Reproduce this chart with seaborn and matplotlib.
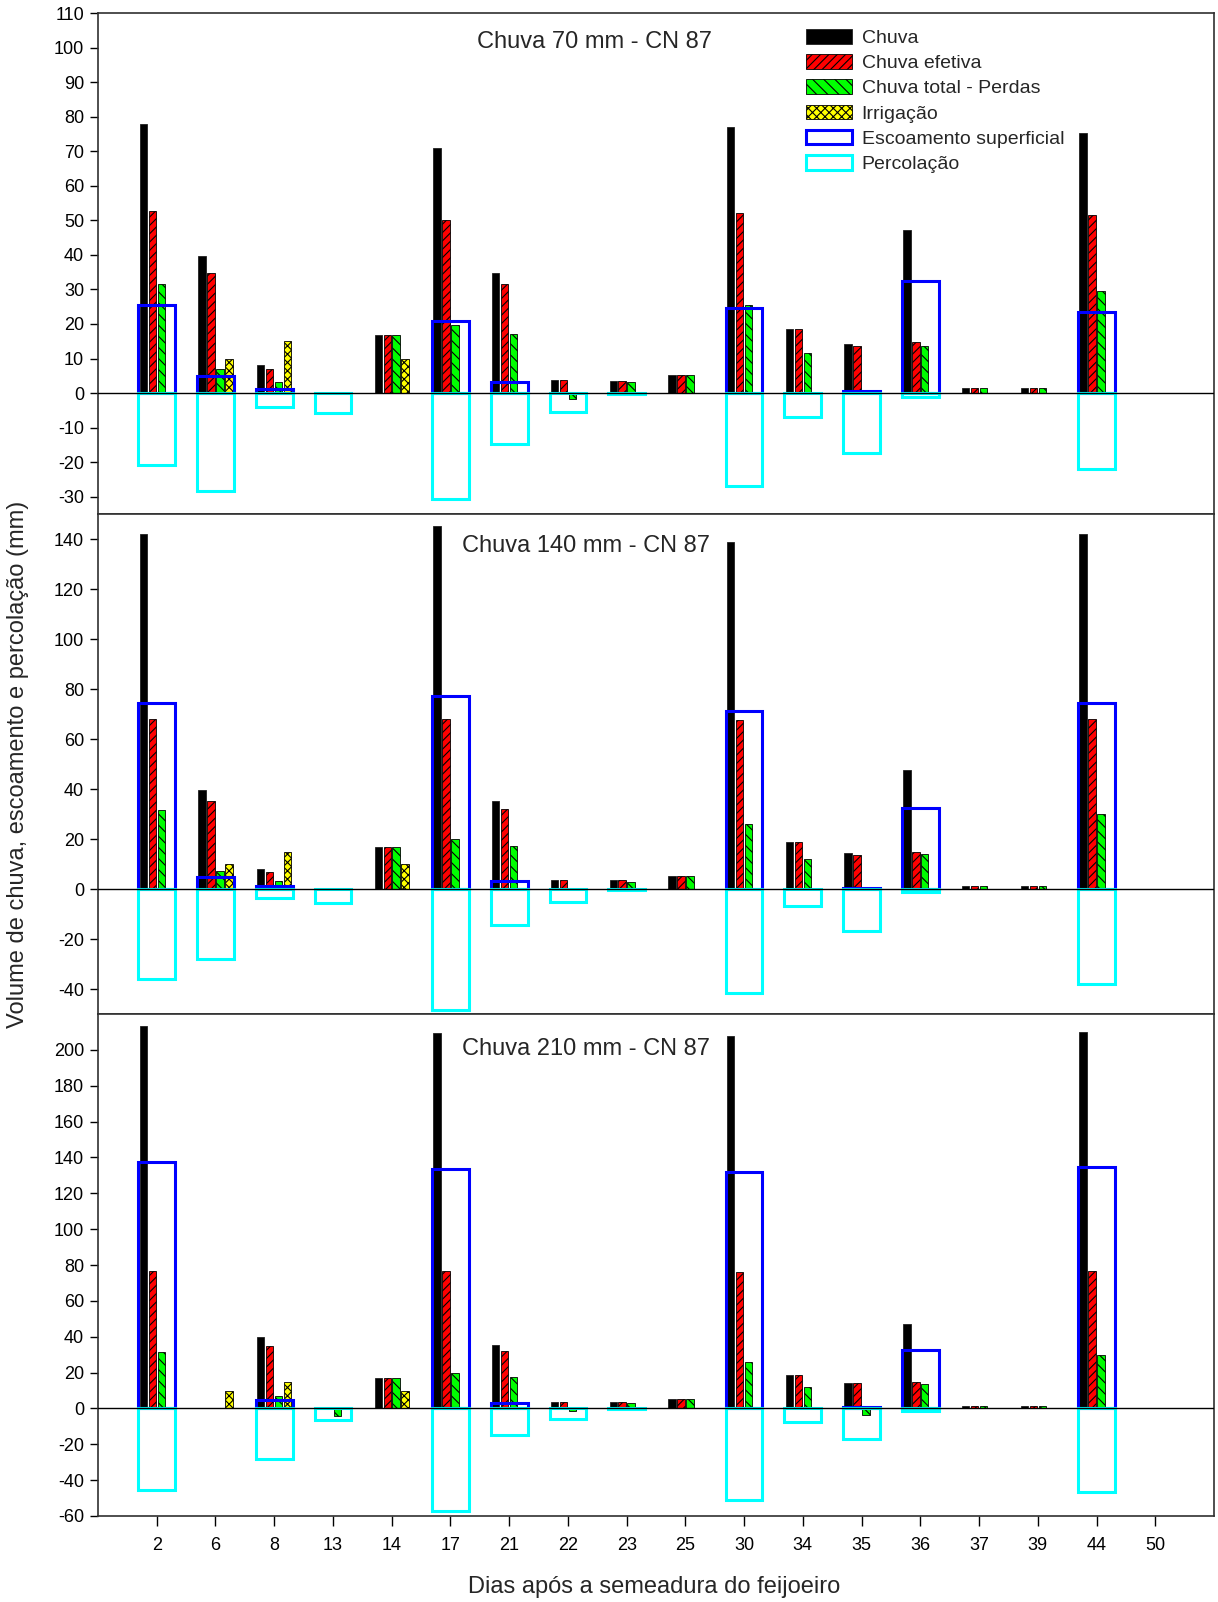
import numpy as np
import pandas as pd
import matplotlib
matplotlib.use("Agg")
import matplotlib.pyplot as plt
import seaborn as sns
from matplotlib.patches import Patch

nan = np.nan

# ---------------- data ----------------
dias = ['2', '6', '8', '13', '14', '17', '21', '22', '23', '25',
        '30', '34', '35', '36', '37', '39', '44', '50']

series_names = ['Chuva', 'Chuva efetiva', 'Chuva total - Perdas', 'Irrigação']

# Panel 1: Chuva 70 mm - CN 87
chuva_70 = [78.0, 39.6, 8.0, nan, 16.7, 70.9, 34.8, 3.7, 3.6, 5.2, 76.9, 18.4, 14.1, 47.2, 1.4, 1.4, 75.2, nan]
efetiva_70 = [52.6, 34.7, 6.9, nan, 16.7, 50.0, 31.6, 3.7, 3.6, 5.2, 52.2, 18.4, 13.6, 14.8, 1.4, 1.4, 51.6, nan]
total_70 = [31.6, 6.9, 3.1, nan, 16.7, 19.6, 17.1, -1.8, 3.2, 5.2, 25.5, 11.6, nan, 13.7, 1.4, 1.4, 29.6, nan]
irrig_70 = [nan, 10.0, 15.0, nan, 10.0, nan, nan, nan, nan, nan, nan, nan, nan, nan, nan, nan, nan, nan]
escoam_70 = [25.4, 4.8, 1.2, nan, nan, 20.8, 3.2, nan, nan, nan, 24.6, nan, 0.6, 32.3, nan, nan, 23.6, nan]
percol_70 = [-20.9, -28.2, -4.0, -5.9, nan, -30.6, -14.8, -5.5, -0.4, nan, -26.8, -6.9, -17.3, -1.0, nan, nan, -22.1, nan]

# Panel 2: Chuva 140 mm - CN 87
chuva_140 = [141.9, 39.7, 8.0, nan, 16.8, 145.3, 35.3, 3.7, 3.5, 5.1, 138.8, 18.8, 14.3, 47.5, 1.2, 1.2, 141.9, nan]
efetiva_140 = [68.1, 35.1, 6.9, nan, 16.8, 68.1, 32.0, 3.7, 3.5, 5.1, 67.5, 18.8, 13.7, 14.9, 1.2, 1.2, 67.9, nan]
total_140 = [31.7, 7.1, 3.1, nan, 16.8, 19.9, 17.3, nan, 2.9, 5.1, 25.9, 11.9, nan, 14.0, 1.2, 1.2, 29.9, nan]
irrig_140 = [nan, 10.0, 15.0, nan, 10.0, nan, nan, nan, nan, nan, nan, nan, nan, nan, nan, nan, nan, nan]
escoam_140 = [74.3, 4.8, 1.1, nan, nan, 77.1, 3.2, nan, nan, nan, 71.3, nan, 0.4, 32.5, nan, nan, 74.3, nan]
percol_140 = [-36.1, -28.0, -3.7, -5.7, nan, -48.4, -14.5, -5.3, -0.3, nan, -41.5, -6.8, -16.9, -1.3, nan, nan, -38.1, nan]

# Panel 3: Chuva 210 mm - CN 87
chuva_210 = [213.3, nan, 39.7, nan, 16.7, 209.4, 35.2, 3.6, 3.4, 5.1, 207.5, 18.9, 14.4, 47.2, 1.5, 1.5, 210.1, nan]
efetiva_210 = [76.7, nan, 34.9, nan, 16.7, 76.5, 31.9, 3.6, 3.4, 5.1, 76.3, 18.9, 14.0, 15.0, 1.5, 1.5, 76.5, nan]
total_210 = [31.7, nan, 7.1, -4.5, 16.7, 19.9, 17.4, -1.7, 3.0, 5.1, 25.7, 11.8, -3.6, 13.9, 1.5, 1.5, 30.0, nan]
irrig_210 = [nan, 10.0, 15.0, nan, 10.0, nan, nan, nan, nan, nan, nan, nan, nan, nan, nan, nan, nan, nan]
escoam_210 = [137.2, nan, 4.7, nan, nan, 133.5, 3.2, nan, nan, nan, 132.0, nan, 0.9, 32.6, nan, nan, 134.4, nan]
percol_210 = [-45.4, nan, -28.1, -6.2, nan, -57.4, -14.6, -5.8, -0.3, nan, -51.0, -7.3, -17.1, -1.7, nan, nan, -46.7, nan]

titles = ['Chuva 70 mm - CN 87', 'Chuva 140 mm - CN 87', 'Chuva 210 mm - CN 87']

# ---------------- style ----------------
sns.set_theme(style="ticks")
plt.rcParams['font.family'] = ['Liberation Sans', 'DejaVu Sans']
plt.rcParams['hatch.linewidth'] = 0.8

palette = {'Chuva': '#000000', 'Chuva efetiva': '#ff0000',
           'Chuva total - Perdas': '#00ff00', 'Irrigação': '#ffff00'}
hatches = {'Chuva': '', 'Chuva efetiva': '////',
           'Chuva total - Perdas': '\\\\\\', 'Irrigação': 'xxxx'}
col_esc = '#0000ff'
col_per = '#00ffff'

fig = plt.figure(figsize=(12.18, 16.02), dpi=100)
left, right = 98 / 1218, 1214 / 1218
bounds_px = [(13, 514), (514, 1014), (1014, 1516)]
axes = []
for top, bot in bounds_px:
    axes.append(fig.add_axes([left, 1 - bot / 1602, right - left, (bot - top) / 1602]))

panels = [
    (chuva_70, efetiva_70, total_70, irrig_70, escoam_70, percol_70, (-35, 110), np.arange(-30, 111, 10), (0.445, 0.942)),
    (chuva_140, efetiva_140, total_140, irrig_140, escoam_140, percol_140, (-50, 150), np.arange(-40, 141, 20), (0.437, 0.937)),
    (chuva_210, efetiva_210, total_210, irrig_210, escoam_210, percol_210, (-60, 220), np.arange(-60, 201, 20), (0.437, 0.930)),
]

for i, (ax, p) in enumerate(zip(axes, panels)):
    chuva, efet, tot, irr, esc, per, ylim, yt, tpos = p
    df = pd.DataFrame({
        'dia': dias * 4,
        'serie': np.repeat(series_names, len(dias)),
        'valor': np.concatenate([chuva, efet, tot, irr]),
    })
    sns.barplot(data=df, x='dia', y='valor', hue='serie', order=dias,
                hue_order=series_names, palette=palette, saturation=1,
                width=0.61, gap=0.18, errorbar=None, legend=False,
                edgecolor='black', linewidth=0.6, ax=ax, zorder=2)
    for cont, name in zip(ax.containers[:4], series_names):
        for bar in cont:
            bar.set_hatch(hatches[name])
            bar.set_edgecolor('#202020' if name == 'Chuva' else 'black')

    n0 = len(ax.containers)
    sns.barplot(x=dias, y=esc, order=dias, color=col_esc, saturation=1,
                width=0.625, errorbar=None, ax=ax, zorder=3)
    sns.barplot(x=dias, y=per, order=dias, color=col_per, saturation=1,
                width=0.625, errorbar=None, ax=ax, zorder=3)
    for cont, c in zip(ax.containers[n0:], [col_esc, col_per]):
        for bar in cont:
            bar.set_facecolor('none')
            bar.set_edgecolor(c)
            bar.set_linewidth(2.2)

    ax.axhline(0, color='black', lw=1.0, zorder=4)
    ax.set_xlim(-1, len(dias))
    ax.set_ylim(*ylim)
    ax.set_yticks(yt)
    ax.set_yticklabels([str(int(v)) for v in yt], fontsize=13)
    ax.set_xlabel('')
    ax.set_ylabel('')
    ax.tick_params(axis='y', direction='out', length=6, width=1, pad=4, colors='black')
    for s in ax.spines.values():
        s.set_visible(True)
        s.set_color('#303030')
        s.set_linewidth(1.2)
    if i < 2:
        ax.tick_params(axis='x', length=0, labelbottom=False)
    else:
        ax.tick_params(axis='x', direction='out', length=7, width=1, pad=8, labelsize=13, colors='black')
    ax.text(tpos[0], tpos[1], titles[i], transform=ax.transAxes,
            ha='center', va='center', fontsize=17)

# legend
handles = [
    Patch(facecolor='#000000', edgecolor='#202020', linewidth=0.6, label='Chuva'),
    Patch(facecolor='#ff0000', edgecolor='black', hatch='////', linewidth=0.6, label='Chuva efetiva'),
    Patch(facecolor='#00ff00', edgecolor='black', hatch='\\\\\\', linewidth=0.6, label='Chuva total - Perdas'),
    Patch(facecolor='#ffff00', edgecolor='black', hatch='xxxx', linewidth=0.6, label='Irrigação'),
    Patch(facecolor='white', edgecolor=col_esc, linewidth=2.2, label='Escoamento superficial'),
    Patch(facecolor='white', edgecolor=col_per, linewidth=2.2, label='Percolação'),
]
axes[0].legend(handles=handles, loc='upper left', bbox_to_anchor=(0.634, 0.968),
               frameon=False, fontsize=14, handlelength=2.37, handleheight=0.77,
               handletextpad=0.52, labelspacing=0.37, borderpad=0, borderaxespad=0)

fig.text(0.015, 0.523, 'Volume de chuva, escoamento e percolação (mm)',
         rotation=90, ha='center', va='center', fontsize=17)
fig.text(0.537, 0.0094, 'Dias após a semeadura do feijoeiro',
         ha='center', va='center', fontsize=17)

fig.savefig('out.png', dpi=100, facecolor='white')
